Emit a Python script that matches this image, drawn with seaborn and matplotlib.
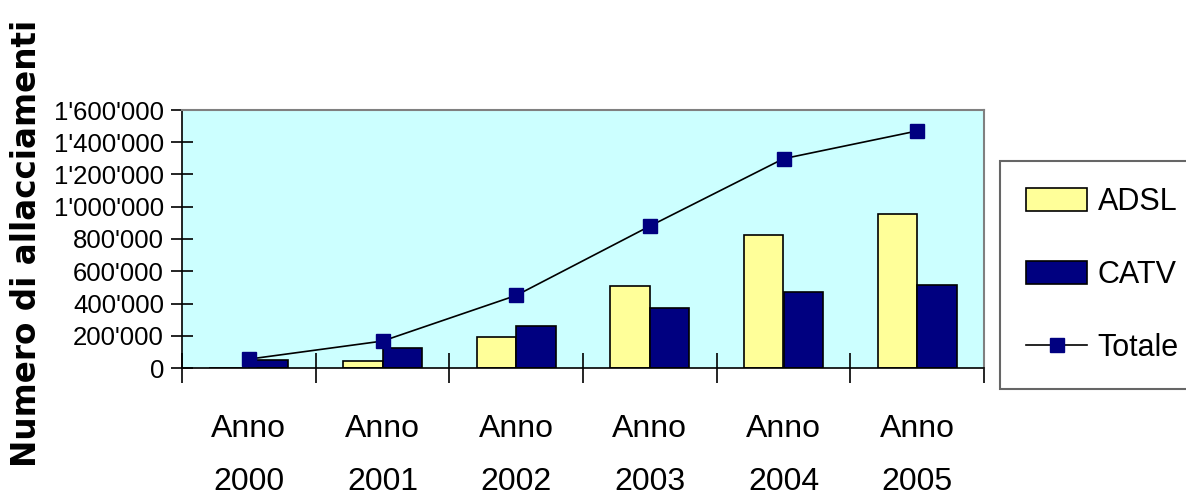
import pandas as pd
import numpy as np
import matplotlib
matplotlib.use('Agg')
import matplotlib.pyplot as plt
import seaborn as sns

# valori
anni = ['Anno\n2000', 'Anno\n2001', 'Anno\n2002', 'Anno\n2003', 'Anno\n2004', 'Anno\n2005']
adsl = [0, 45000, 190000, 510000, 825000, 955000]
catv = [50000, 122000, 260000, 370000, 473000, 515000]
totale = [55000, 167000, 450000, 880000, 1298000, 1470000]
y_ticks = [0, 200000, 400000, 600000, 800000, 1000000, 1200000, 1400000, 1600000]

df = pd.DataFrame({
    'anno': anni * 2,
    'valore': adsl + catv,
    'tipo': ['ADSL'] * len(anni) + ['CATV'] * len(anni),
})

plt.rcParams['font.family'] = ['Liberation Sans', 'DejaVu Sans']

fig = plt.figure(figsize=(11.86, 4.95), dpi=100)
ax = fig.add_axes([182 / 1186, 1 - 368 / 495, (984 - 182) / 1186, (368 - 110) / 495])
ax.set_facecolor('#CCFFFF')

sns.barplot(data=df, x='anno', y='valore', hue='tipo', order=anni,
            palette={'ADSL': '#FFFF99', 'CATV': '#000080'},
            width=0.59, gap=0, edgecolor='black', linewidth=1.2,
            saturation=1, ax=ax)

ax.plot(range(len(anni)), totale, color='black', linewidth=1.2,
        marker='s', markersize=10, markerfacecolor='#000080',
        markeredgecolor='#000080', label='Totale', zorder=5)

ax.set_xlim(-0.5, len(anni) - 0.5)
ax.set_ylim(0, 1600000)
ax.set_xlabel('')
ax.set_ylabel('')

ax.set_yticks(y_ticks)
ax.set_yticklabels([f"{v:,}".replace(',', "'") for v in y_ticks], fontsize=18.5)
ax.tick_params(axis='y', direction='inout', length=16, width=1.2, pad=5)

ax.set_xticks(range(len(anni)))
ax.set_xticklabels(anni, fontsize=23, linespacing=2.0)
ax.set_xticks(np.arange(-0.5, len(anni)), minor=True)
ax.tick_params(axis='x', which='major', length=0, pad=33)
ax.tick_params(axis='x', which='minor', direction='inout', length=22, width=1.2)

for s in ['top', 'right']:
    ax.spines[s].set_color('#808080')
    ax.spines[s].set_linewidth(1.5)
for s in ['left', 'bottom']:
    ax.spines[s].set_color('black')
    ax.spines[s].set_linewidth(1.2)

fig.text(27 / 1186, 1 - 243 / 495, 'Numero di allacciamenti', rotation=90,
         fontsize=23.5, fontweight='bold', ha='center', va='center',
         family=['DejaVu Sans'])

handles, labels = ax.get_legend_handles_labels()
leg = ax.legend(handles, labels, loc='center left',
                bbox_to_anchor=(1000 / 1186, 1 - 275 / 495),
                bbox_transform=fig.transFigure, fontsize=22,
                frameon=True, fancybox=False, edgecolor='#404040',
                handlelength=2.0, handleheight=0.75, labelspacing=1.4,
                borderpad=0.85, handletextpad=0.35, borderaxespad=0)
leg.get_frame().set_linewidth(1.5)

fig.savefig('out.png', dpi=100, facecolor='white')
